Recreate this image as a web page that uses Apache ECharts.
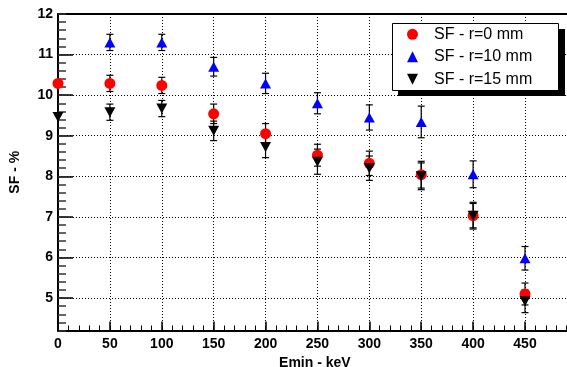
<!DOCTYPE html>
<html>
<head>
<meta charset="utf-8">
<script src="https://cdn.jsdelivr.net/npm/echarts@6/dist/echarts.min.js"></script>
<style>
html,body{margin:0;padding:0;background:#fff;}
#chart{width:567px;height:367px;}
</style>
</head>
<body>
<div id="chart"></div>
<script>
// ---- data ----
const emin   = [0, 50, 100, 150, 200, 250, 300, 350, 400, 450];
const sfR0   = [10.29, 10.29, 10.24, 9.54, 9.05, 8.52, 8.32, 8.04, 7.03, 5.10];
const errR0  = [null, 0.2, 0.2, 0.24, 0.25, 0.27, 0.30, 0.33, 0.33, 0.27];
const sfR10  = [null, 11.30, 11.30, 10.70, 10.29, 9.80, 9.45, 9.34, 8.05, 5.98];
const errR10 = [null, 0.2, 0.2, 0.23, 0.25, 0.26, 0.31, 0.39, 0.33, 0.29];
const sfR15  = [9.46, 9.58, 9.67, 9.12, 8.72, 8.36, 8.20, 8.00, 7.03, 4.92];
const errR15 = [null, 0.2, 0.2, 0.24, 0.26, 0.31, 0.30, 0.33, 0.30, 0.28];
const seriesNames = ['SF - r=0 mm', 'SF - r=10 mm', 'SF - r=15 mm'];
const xTitle = 'Emin - keV';
const yTitle = 'SF - %';

const FONT = 'Liberation Sans, Arial, Helvetica, sans-serif';
const DOWN_TRI = 'path://M0,0L10,0L5,10Z';

function points(ys) {
  const out = [];
  emin.forEach((x, i) => { if (ys[i] != null) out.push([x, ys[i]]); });
  return out;
}
function errPoints(ys, es) {
  const out = [];
  emin.forEach((x, i) => { if (ys[i] != null && es[i] != null) out.push([x, ys[i], es[i]]); });
  return out;
}
function renderErr(params, api) {
  const x = api.value(0), y = api.value(1), e = api.value(2);
  const t = api.coord([x, y + e]);
  const b = api.coord([x, y - e]);
  const hw = 3.5;
  const st = { stroke: '#000', lineWidth: 1.2 };
  return {
    type: 'group',
    children: [
      { type: 'line', shape: { x1: t[0], y1: t[1], x2: b[0], y2: b[1] }, style: st },
      { type: 'line', shape: { x1: t[0] - hw, y1: t[1], x2: t[0] + hw, y2: t[1] }, style: st },
      { type: 'line', shape: { x1: b[0] - hw, y1: b[1], x2: b[0] + hw, y2: b[1] }, style: st }
    ]
  };
}
function errSeries(ys, es) {
  return {
    type: 'custom', xAxisIndex: 0, yAxisIndex: 0, z: 1,
    renderItem: renderErr, data: errPoints(ys, es), silent: true
  };
}

const chart = echarts.init(document.getElementById('chart'), null, { renderer: 'canvas' });
const option = {
  animation: false,
  backgroundColor: '#fff',
  grid: { left: 58, top: 14, width: 513.7, height: 316.5, containLabel: false, outerBoundsMode: 'none' },
  xAxis: [
    {
      type: 'value', min: 0, max: 495, interval: 50, position: 'bottom',
      name: xTitle, nameLocation: 'middle', nameGap: 20,
      nameTextStyle: { color: '#000', fontSize: 14, fontWeight: 'bold', fontFamily: FONT },
      axisLine: { show: true, onZero: false, lineStyle: { color: '#000', width: 2 } },
      axisTick: { show: true, inside: true, length: 9, lineStyle: { color: '#000', width: 1.5 } },
      minorTick: { show: false },
      axisLabel: { margin: 7, color: '#000', fontSize: 14, fontWeight: 'bold', fontFamily: FONT, showMaxLabel: false },
      splitLine: { show: true, lineStyle: { color: '#000', width: 1, type: [1, 2] } }
    },
    {
      type: 'value', min: 0, max: 495, interval: 10, position: 'bottom',
      axisLine: { show: false, onZero: false },
      axisTick: { show: true, inside: true, length: 5, lineStyle: { color: '#000', width: 1 } },
      axisLabel: { show: false }, splitLine: { show: false }
    },
    {
      type: 'value', min: 0, max: 495, position: 'top',
      axisLine: { show: true, onZero: false, lineStyle: { color: '#000', width: 2 } },
      axisTick: { show: false }, axisLabel: { show: false }, splitLine: { show: false }
    }
  ],
  yAxis: [
    {
      type: 'value', min: 4.2, max: 12, splitNumber: 8, position: 'left',
      name: yTitle, nameLocation: 'middle', nameGap: 36,
      nameTextStyle: { color: '#000', fontSize: 14, fontWeight: 'bold', fontFamily: FONT },
      axisLine: { show: true, onZero: false, lineStyle: { color: '#000', width: 2 } },
      axisTick: { show: true, inside: true, length: 15, lineStyle: { color: '#000', width: 1.5 } },
      axisLabel: { margin: 5, color: '#000', fontSize: 14, fontWeight: 'bold', fontFamily: FONT, showMinLabel: false },
      splitLine: { show: true, lineStyle: { color: '#000', width: 1, type: [1, 2] } }
    },
    {
      type: 'value', min: 4.2, max: 12, interval: 0.2, position: 'left',
      axisLine: { show: false, onZero: false },
      axisTick: { show: true, inside: true, length: 8, lineStyle: { color: '#333', width: 1.5 } },
      axisLabel: { show: false }, splitLine: { show: false }
    }
  ],
  legend: {
    data: seriesNames, orient: 'vertical', left: 407, top: 26.3,
    itemWidth: 11, itemHeight: 11, itemGap: 6.5, padding: 0, z: 20,
    textStyle: { color: '#000', fontSize: 16, fontFamily: FONT, padding: [0, 0, 0, 11] }
  },
  graphic: [
    { type: 'rect', z: 10, shape: { x: 398, y: 29, width: 167, height: 67 }, style: { fill: '#000' } },
    { type: 'rect', z: 11, shape: { x: 392.5, y: 23.5, width: 166, height: 67 }, style: { fill: '#fff', stroke: '#000', lineWidth: 1 } }
  ],
  series: [
    errSeries(sfR0, errR0),
    errSeries(sfR10, errR10),
    errSeries(sfR15, errR15),
    {
      name: seriesNames[0], type: 'scatter', xAxisIndex: 0, yAxisIndex: 0, z: 3,
      symbol: 'circle', symbolSize: 11,
      itemStyle: { color: '#ff0000', opacity: 1 }, data: points(sfR0)
    },
    {
      name: seriesNames[1], type: 'scatter', xAxisIndex: 0, yAxisIndex: 0, z: 3,
      symbol: 'triangle', symbolSize: [11, 10],
      itemStyle: { color: '#0000ff', opacity: 1 }, data: points(sfR10)
    },
    {
      name: seriesNames[2], type: 'scatter', xAxisIndex: 0, yAxisIndex: 0, z: 3,
      symbol: DOWN_TRI, symbolSize: [11, 10],
      itemStyle: { color: '#000000', opacity: 1 }, data: points(sfR15)
    }
  ]
};
chart.setOption(option);
</script>
</body>
</html>
